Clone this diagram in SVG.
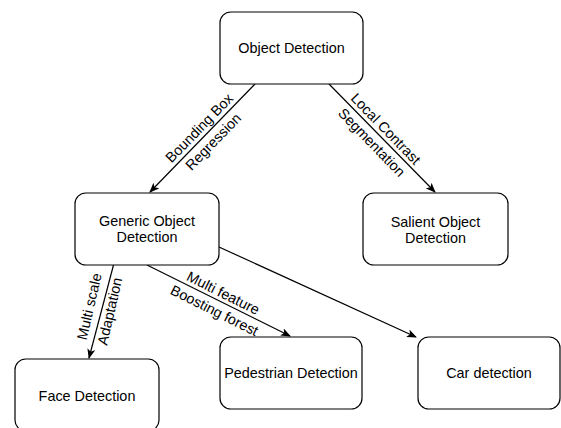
<svg xmlns="http://www.w3.org/2000/svg" width="561" height="428" viewBox="0 0 561 428">
<style>
.box{fill:#fff;stroke:#000;stroke-width:1.2}
.t{font-family:"Liberation Sans",Arial,sans-serif;font-size:14.4px;fill:#000;text-anchor:middle}
.e{fill:none;stroke:#000;stroke-width:1.2;marker-end:url(#arr)}
</style>
<defs>
<marker id="arr" viewBox="0 0 10 8" refX="9" refY="4" markerWidth="10" markerHeight="8" markerUnits="userSpaceOnUse" orient="auto">
<path d="M0,0 L10,4 L0,8 L2.5,4 z" fill="#000"/>
</marker>
</defs>
<rect width="561" height="428" fill="#fff"/>
<g id="connectors">
<line class="e" x1="255" y1="84" x2="150" y2="192"/>
<line class="e" x1="329" y1="84" x2="435" y2="192"/>
<line class="e" x1="113.5" y1="265" x2="89" y2="358"/>
<line class="e" x1="147" y1="265" x2="290" y2="336"/>
<line class="e" x1="219" y1="247" x2="416" y2="337"/>
<g transform="translate(206,134.6) rotate(-45.8)"><text class="t" y="-4.5">Bounding Box</text><text class="t" y="15">Regression</text></g>
<g transform="translate(379,135.5) rotate(45.8)"><text class="t" y="-4.5">Local Contrast</text><text class="t" y="15">Segmentation</text></g>
<g transform="translate(100,309) rotate(-77)"><text class="t" y="-6">Multi scale</text><text class="t" y="15">Adaptation</text></g>
<g transform="translate(219,301.5) rotate(26.6)"><text class="t" y="-4.5">Multi feature</text><text class="t" y="15">Boosting forest</text></g>
</g>
<g id="object-detection"><rect class="box" x="220" y="12" width="143" height="72" rx="10.8"/><text class="t" x="291.5" y="53">Object Detection</text></g>
<g id="generic-object-detection"><rect class="box" x="75" y="193" width="144" height="72" rx="10.8"/><text class="t" x="147" y="226">Generic Object</text><text class="t" x="147" y="242">Detection</text></g>
<g id="salient-object-detection"><rect class="box" x="363" y="193" width="145" height="72" rx="10.8"/><text class="t" x="435.5" y="227">Salient Object</text><text class="t" x="435.5" y="243">Detection</text></g>
<g id="face-detection"><rect class="box" x="15" y="359" width="144" height="72" rx="10.8"/><text class="t" x="87" y="401">Face Detection</text></g>
<g id="pedestrian-detection"><rect class="box" x="220" y="337" width="142" height="72" rx="10.8"/><text class="t" x="291" y="378">Pedestrian Detection</text></g>
<g id="car-detection"><rect class="box" x="418" y="337" width="142" height="72" rx="10.8"/><text class="t" x="489" y="378">Car detection</text></g>
</svg>
